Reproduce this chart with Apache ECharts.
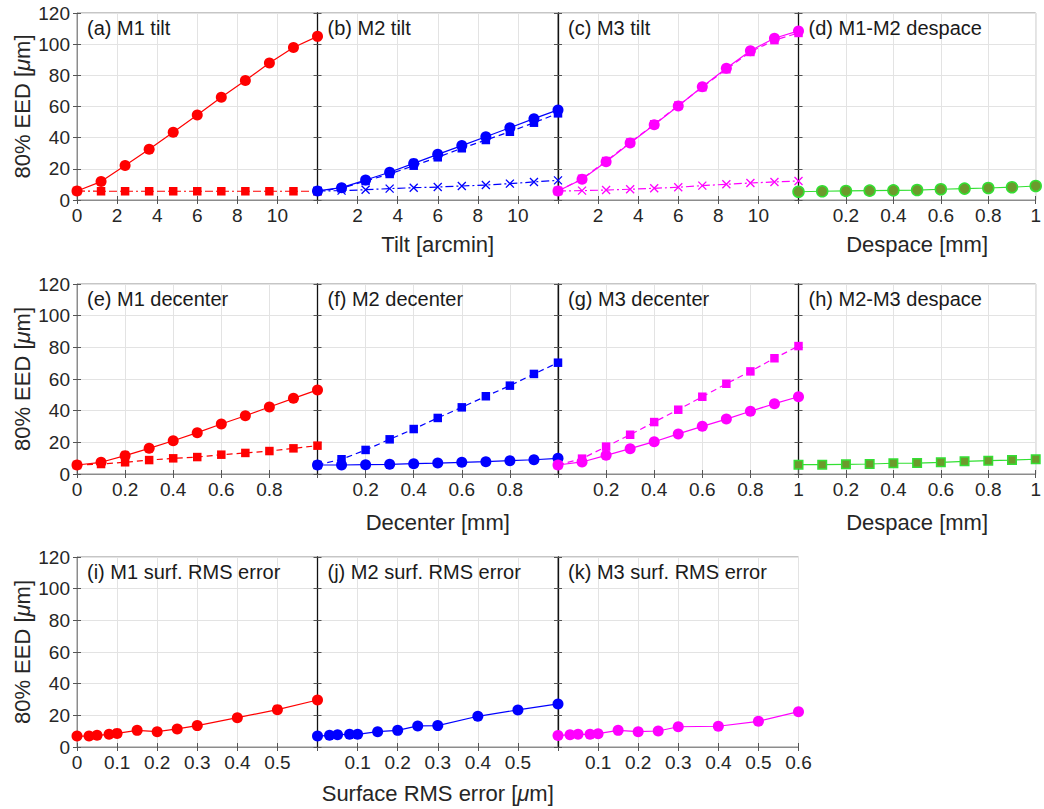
<!DOCTYPE html>
<html><head><meta charset="utf-8">
<script src="https://cdn.jsdelivr.net/npm/echarts@6/dist/echarts.min.js"></script>
<style>html,body{margin:0;padding:0;background:#fff}#c{width:1044px;height:809px}</style>
</head><body><div id="c"></div>
<script>
// ---------- data ----------
const tiltX = [0, 1.2, 2.4, 3.6, 4.8, 6, 7.2, 8.4, 9.6, 10.8, 12];
const mmX = [0, 0.1, 0.2, 0.3, 0.4, 0.5, 0.6, 0.7, 0.8, 0.9, 1.0];
const rmsX = [0, 0.03, 0.05, 0.08, 0.1, 0.15, 0.2, 0.25, 0.3, 0.4, 0.5, 0.6];

const m1TiltCirc = [5.8, 11.8, 22.1, 32.6, 43.5, 54.6, 66.0, 76.7, 87.9, 97.9, 105.0];
const m1TiltSq   = [5.8, 5.6, 5.6, 5.6, 5.6, 5.6, 5.6, 5.6, 5.6, 5.6, 5.6];
const m2TiltCirc = [5.8, 7.9, 12.8, 17.8, 23.5, 29.3, 34.9, 40.6, 46.4, 52.2, 57.8];
const m2TiltSq   = [5.8, 7.5, 12.2, 16.7, 22.0, 27.4, 33.2, 38.5, 43.8, 49.6, 55.6];
const m2TiltX    = [5.8, 6.0, 6.6, 7.3, 7.9, 8.3, 9.0, 9.6, 10.5, 11.6, 12.6];
const m3TiltCirc = [5.8, 13.3, 24.6, 36.6, 48.3, 60.3, 72.7, 84.5, 95.8, 103.8, 108.5];
const m3TiltSq   = [5.8, 13.6, 25.0, 36.9, 48.6, 60.6, 72.4, 83.9, 95.0, 102.6, 107.2];
const m3TiltX    = [5.8, 6.0, 6.4, 6.9, 7.5, 8.2, 9.2, 10.1, 10.9, 11.6, 12.2];
const m12Despace = [5.3, 5.6, 5.8, 6.0, 6.2, 6.4, 6.9, 7.3, 7.7, 8.2, 9.0];

const m1DecCirc = [5.7, 7.4, 11.6, 16.2, 21.0, 26.1, 31.6, 36.8, 42.3, 47.8, 53.1];
const m1DecSq   = [5.7, 6.3, 7.4, 8.8, 9.9, 10.7, 12.2, 13.3, 14.5, 16.2, 17.9];
const m2DecCirc = [5.7, 5.7, 5.9, 6.1, 6.5, 6.9, 7.4, 7.8, 8.4, 9.0, 9.9];
const m2DecSq   = [5.7, 9.3, 15.2, 21.9, 28.4, 35.4, 42.1, 49.1, 55.8, 63.2, 70.3];
const m3DecCirc = [5.7, 7.6, 11.8, 16.0, 20.4, 25.3, 30.1, 34.7, 39.6, 44.4, 48.8];
const m3DecSq   = [5.7, 9.7, 17.3, 24.8, 32.8, 40.6, 48.8, 57.0, 64.8, 73.1, 80.8];
const m23Despace = [5.9, 5.9, 6.1, 6.3, 6.8, 6.9, 7.4, 8.0, 8.4, 8.8, 9.3];

const m1Rms = [6.9, 6.9, 7.4, 8.0, 8.6, 10.5, 9.7, 11.4, 13.5, 18.5, 23.6, 29.7];
const m2Rms = [6.9, 7.4, 7.8, 8.0, 8.0, 9.7, 10.5, 13.3, 13.5, 19.4, 23.4, 27.2];
const m3Rms = [7.2, 7.8, 8.0, 8.0, 8.4, 10.5, 9.7, 10.1, 12.8, 13.1, 16.2, 22.3];

const panelTitles = ['(a) M1 tilt', '(b) M2 tilt', '(c) M3 tilt', '(d) M1-M2 despace',
  '(e) M1 decenter', '(f) M2 decenter', '(g) M3 decenter', '(h) M2-M3 despace',
  '(i) M1 surf. RMS error', '(j) M2 surf. RMS error', '(k) M3 surf. RMS error'];
const yTitle = '80% EED [{mu|μ}m]';

// ---------- styling / layout ----------
const FONT = '"Liberation Sans", Arial, Helvetica, sans-serif';
const TXT = '#262626';
const colLeft = [77, 317.5, 558, 798.5], colW = 240.5;
const rowTop = [13, 284, 557], rowH = [187, 190, 190];
const RED = '#ff0000', BLUE = '#0000ff', MAG = '#ff00ff', GREEN = '#33e033', OLIVE = '#6b9a2c';
const DASH = [6, 4], DASHDOT = [8, 3, 2, 3];
const XSYM = 'path://M0,0L10,10M10,0L0,10';

const S = (x, y, color, sym, line, fill) => ({x, y, color, sym, line, fill});
const panels = [
  {r:0, c:0, xMax:12, xInt:2, sMin:true, sMax:false, series:[S(tiltX,m1TiltSq,RED,'rect',DASHDOT), S(tiltX,m1TiltCirc,RED,'circle','solid')]},
  {r:0, c:1, xMax:12, xInt:2, sMin:false, sMax:false, name:'Tilt [arcmin]', gap:33,
    series:[S(tiltX,m2TiltX,BLUE,XSYM,DASHDOT), S(tiltX,m2TiltSq,BLUE,'rect',DASH), S(tiltX,m2TiltCirc,BLUE,'circle','solid')]},
  {r:0, c:2, xMax:12, xInt:2, sMin:false, sMax:false,
    series:[S(tiltX,m3TiltX,MAG,XSYM,DASHDOT), S(tiltX,m3TiltSq,MAG,'rect',DASH), S(tiltX,m3TiltCirc,MAG,'circle','solid')]},
  {r:0, c:3, xMax:1, xInt:0.2, sMin:false, sMax:true, name:'Despace [mm]', gap:33,
    series:[S(mmX,m12Despace,GREEN,'circle','solid',OLIVE)]},
  {r:1, c:0, xMax:1, xInt:0.2, sMin:true, sMax:false, series:[S(mmX,m1DecSq,RED,'rect',DASH), S(mmX,m1DecCirc,RED,'circle','solid')]},
  {r:1, c:1, xMax:1, xInt:0.2, sMin:false, sMax:false, name:'Decenter [mm]', gap:37,
    series:[S(mmX,m2DecSq,BLUE,'rect',DASH), S(mmX,m2DecCirc,BLUE,'circle','solid')]},
  {r:1, c:2, xMax:1, xInt:0.2, sMin:false, sMax:true, series:[S(mmX,m3DecSq,MAG,'rect',DASH), S(mmX,m3DecCirc,MAG,'circle','solid')]},
  {r:1, c:3, xMax:1, xInt:0.2, sMin:false, sMax:true, name:'Despace [mm]', gap:37,
    series:[S(mmX,m23Despace,GREEN,'rect','solid',OLIVE)]},
  {r:2, c:0, xMax:0.6, xInt:0.1, sMin:true, sMax:false, series:[S(rmsX,m1Rms,RED,'circle','solid')]},
  {r:2, c:1, xMax:0.6, xInt:0.1, sMin:false, sMax:false, name:'Surface RMS error [{mu|μ}m]', gap:35,
    series:[S(rmsX,m2Rms,BLUE,'circle','solid')]},
  {r:2, c:2, xMax:0.6, xInt:0.1, sMin:false, sMax:true, series:[S(rmsX,m3Rms,MAG,'circle','solid')]},
];

const grid = [], xAxis = [], yAxis = [], series = [], title = [];
const xAxis2 = [], yAxis2 = [];
const rich = {mu: {fontStyle: 'italic', fontSize: 22, fontFamily: FONT, color: TXT}};
const tick = {show: true, inside: true, length: 4, lineStyle: {color: '#555'}};
panels.forEach((p, i) => {
  const left = colLeft[p.c], top = rowTop[p.r], h = rowH[p.r];
  grid.push({left, top, width: colW, height: h, show: true, borderColor: '#8c8c8c', borderWidth: 1, containLabel: false});
  xAxis.push({
    type: 'value', gridIndex: i, min: 0, max: p.xMax, interval: p.xInt,
    axisLine: {show: true, lineStyle: {color: '#8c8c8c', width: 1}},
    axisTick: tick,
    splitLine: {show: true, lineStyle: {color: '#e3e3e3', width: 1}},
    axisLabel: {show: true, showMinLabel: p.sMin, showMaxLabel: p.sMax, margin: 6, color: TXT, fontSize: 19, fontFamily: FONT},
    name: p.name || '', nameLocation: 'middle', nameGap: p.gap || 30,
    nameTextStyle: {color: TXT, fontSize: 22, fontFamily: FONT, rich}
  });
  xAxis2.push({type: 'value', gridIndex: i, position: 'top', min: 0, max: p.xMax, interval: p.xInt,
    axisLine: {show: false}, axisTick: tick, splitLine: {show: false}, axisLabel: {show: false}});
  const first = p.c === 0;
  yAxis.push({
    type: 'value', gridIndex: i, min: 0, max: 120, interval: 20,
    axisLine: {show: true, lineStyle: {color: first ? '#8c8c8c' : '#111', width: first ? 1 : 1.3}},
    axisTick: tick,
    splitLine: {show: true, lineStyle: {color: '#e3e3e3', width: 1}},
    axisLabel: {show: first, margin: 7, color: TXT, fontSize: 19, fontFamily: FONT},
    name: first ? yTitle : '', nameLocation: 'middle', nameRotate: 90, nameGap: 44,
    nameTextStyle: {color: TXT, fontSize: 22, fontFamily: FONT, rich}
  });
  yAxis2.push({type: 'value', gridIndex: i, position: 'right', min: 0, max: 120, interval: 20,
    axisLine: {show: false}, axisTick: tick, splitLine: {show: false}, axisLabel: {show: false}});
  title.push({text: panelTitles[i], left: left + 10, top: top + 5, padding: 0,
    textStyle: {fontSize: 20, fontWeight: 'normal', color: '#1a1a1a', fontFamily: FONT}});
  p.series.forEach(s => {
    const isX = s.sym === XSYM;
    const size = s.sym === 'circle' ? 11 : (s.sym === 'rect' ? 8.5 : 8);
    series.push({
      type: 'line', xAxisIndex: i, yAxisIndex: i,
      data: s.x.map((x, k) => [x, s.y[k]]),
      symbol: s.sym, symbolSize: size, showAllSymbol: true, clip: false,
      lineStyle: {color: s.color, width: 1.2, type: s.line},
      itemStyle: {color: s.fill || s.color, borderColor: s.color, borderWidth: isX ? 1.3 : (s.fill ? 1.5 : 0), opacity: 1},
      emphasis: {disabled: true}, z: 3
    });
  });
});

const chart = echarts.init(document.getElementById('c'), null, {renderer: 'svg'});
chart.setOption({animation: false, backgroundColor: '#fff', title, grid,
  xAxis: xAxis.concat(xAxis2), yAxis: yAxis.concat(yAxis2), series});
</script>
</body></html>
